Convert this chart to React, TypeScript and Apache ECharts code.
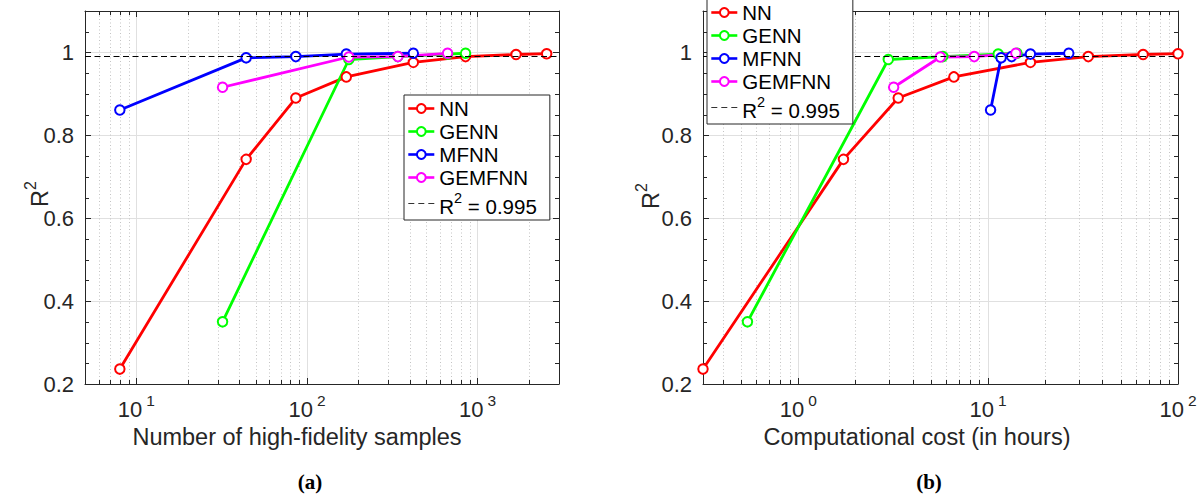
import React, { useEffect, useRef } from 'react';
import * as echarts from 'echarts';

// ---------- data ----------
const seriesNames = ['NN', 'GENN', 'MFNN', 'GEMFNN'];
const seriesColors = ['#ff0000', '#00ff00', '#0000ff', '#ff00ff'];
const REF_NAME = 'R2ref';
const R2_TARGET = 0.995;

// (a) number of high-fidelity samples
const nnSamples = [8, 44, 86, 170, 420, 850, 1680, 2540];
const genSamples = [32, 176, 341, 667, 850];
const mfSamples = [8, 44, 86, 170, 420];
const gemfSamples = [32, 176, 341, 667];

// (b) computational cost (hours)
const nnCost = [0.315, 1.73, 3.36, 6.6, 16.7, 33.7, 65.5, 100];
const genCost = [0.54, 2.98, 5.77, 11.3, 14.2];
const mfCost = [10.3, 11.7, 13.3, 16.7, 26.6];
const gemfCost = [3.18, 5.6, 8.45, 14.0];

// R^2 values (same models in both panels)
const nnR2 = [0.236, 0.742, 0.89, 0.941, 0.976, 0.99, 0.995, 0.997];
const genR2 = [0.35, 0.983, 0.99, 0.996, 0.998];
const mfR2 = [0.861, 0.987, 0.99, 0.996, 0.998];
const gemfR2 = [0.916, 0.989, 0.99, 0.998];

const xRangeA = [5, 3000];
const xRangeB = [0.315, 100];
const yRange = [0.2, 1.1];
const yMajorStep = 0.2;
const yMinorStep = 0.05;

const xTitleA = 'Number of high-fidelity samples';
const xTitleB = 'Computational cost (in hours)';
const captions = ['(a)', '(b)'];

// ---------- styling ----------
const FONT = '"Liberation Sans", Arial, Helvetica, sans-serif';
const SERIF = '"Liberation Serif", "Times New Roman", serif';
const AXIS_COLOR = '#262626';
const GRID_COLOR = '#e0e0e0';
const MINOR_GRID_COLOR = '#c4c4c4';
const TICK_FS = 22;

const grids = [
  { left: 85, top: 11, width: 474, height: 373 },
  { left: 703, top: 11, width: 475, height: 373 },
];

function logMinor(range: number[]) {
  const out: number[] = [];
  const e0 = Math.floor(Math.log10(range[0]));
  const e1 = Math.ceil(Math.log10(range[1]));
  for (let e = e0; e <= e1; e++) {
    for (let k = 2; k <= 9; k++) {
      const v = k * Math.pow(10, e);
      if (v > range[0] * 1.0001 && v < range[1] * 0.9999) out.push(v);
    }
  }
  return out;
}

function linMinor() {
  const out: number[] = [];
  const n = Math.round((yRange[1] - yRange[0]) / yMinorStep);
  for (let i = 1; i < n; i++) {
    const v = +(yRange[0] + i * yMinorStep).toFixed(4);
    const r = v / yMajorStep;
    if (Math.abs(r - Math.round(r)) > 1e-6) out.push(v);
  }
  return out;
}

const xLabelRich = {
  b: { fontSize: TICK_FS, fontFamily: FONT, color: AXIS_COLOR, lineHeight: 28, verticalAlign: 'bottom' },
  e: { fontSize: 15.5, fontFamily: FONT, color: AXIS_COLOR, lineHeight: 16, verticalAlign: 'top', padding: [0, 0, 0, 4] },
};

function xAxes(gridIndex: number, range: number[]) {
  const common: any = {
    type: 'log',
    logBase: 10,
    gridIndex,
    min: range[0],
    max: range[1],
    axisLine: { show: true, onZero: false, lineStyle: { color: AXIS_COLOR, width: 1 } },
    axisTick: { show: true, inside: true, length: 6, lineStyle: { color: AXIS_COLOR, width: 1 } },
    minorTick: { show: false },
    minorSplitLine: { show: false },
  };
  return [
    {
      ...common,
      position: 'bottom',
      axisLabel: {
        show: true,
        margin: 8,
        hideOverlap: false,
        formatter: (v: number) => {
          const l = Math.log10(v);
          const e = Math.round(l);
          if (Math.abs(l - e) > 1e-6) return '';
          return `{b|10}{e|${e}}`;
        },
        rich: xLabelRich,
      },
      splitLine: { show: true, lineStyle: { color: GRID_COLOR, width: 1 } },
    },
    { ...common, position: 'top', axisLabel: { show: false }, splitLine: { show: false } },
  ];
}

function yAxes(gridIndex: number) {
  const common: any = {
    type: 'value',
    gridIndex,
    min: yRange[0],
    max: yRange[1],
    interval: yMajorStep,
    axisLine: { show: true, onZero: false, lineStyle: { color: AXIS_COLOR, width: 1 } },
    axisTick: { show: true, inside: true, length: 6, lineStyle: { color: AXIS_COLOR, width: 1 } },
    minorTick: { show: false },
  };
  return [
    {
      ...common,
      position: 'left',
      axisLabel: {
        show: true,
        margin: 11,
        showMaxLabel: false,
        fontSize: TICK_FS,
        fontFamily: FONT,
        color: AXIS_COLOR,
        formatter: (v: number) => (v > 1.05 ? '' : String(+v.toFixed(1))),
      },
      splitLine: { show: true, lineStyle: { color: GRID_COLOR, width: 1 } },
    },
    { ...common, position: 'right', axisLabel: { show: false }, splitLine: { show: false } },
  ];
}

function minorSeries(g: number, xRange: number[]) {
  const xi = g * 2;
  const xMinor = logMinor(xRange);
  const yMinor = linMinor();
  return [
    {
      type: 'custom',
      name: 'xminor' + g,
      xAxisIndex: xi,
      yAxisIndex: xi,
      silent: true,
      z: 1,
      data: xMinor.map((v) => [v, yRange[0]]),
      renderItem: (params: any, api: any) => {
        const v = api.value(0);
        const b = api.coord([v, yRange[0]]);
        const t = api.coord([v, yRange[1]]);
        const x = Math.round(b[0]) + 0.5;
        return {
          type: 'group',
          children: [
            { type: 'line', shape: { x1: x, y1: b[1], x2: x, y2: t[1] }, style: { stroke: MINOR_GRID_COLOR, lineWidth: 1, lineDash: [1, 2.5] } },
            { type: 'line', shape: { x1: x, y1: b[1], x2: x, y2: b[1] - 4 }, style: { stroke: AXIS_COLOR, lineWidth: 1 } },
            { type: 'line', shape: { x1: x, y1: t[1], x2: x, y2: t[1] + 4 }, style: { stroke: AXIS_COLOR, lineWidth: 1 } },
          ],
        };
      },
    },
    {
      type: 'custom',
      name: 'yminor' + g,
      xAxisIndex: xi,
      yAxisIndex: xi,
      silent: true,
      z: 1,
      data: yMinor.map((v) => [xRange[0], v]),
      renderItem: (params: any, api: any) => {
        const v = api.value(1);
        const l = api.coord([xRange[0], v]);
        const r = api.coord([xRange[1], v]);
        const y = Math.round(l[1]) + 0.5;
        return {
          type: 'group',
          children: [
            { type: 'line', shape: { x1: l[0], y1: y, x2: l[0] + 4, y2: y }, style: { stroke: AXIS_COLOR, lineWidth: 1 } },
            { type: 'line', shape: { x1: r[0], y1: y, x2: r[0] - 4, y2: y }, style: { stroke: AXIS_COLOR, lineWidth: 1 } },
          ],
        };
      },
    },
  ];
}

function dataSeries(g: number, xsList: number[][], ysList: number[][]) {
  const xi = g * 2;
  const out: any[] = seriesNames.map((name, i) => ({
    type: 'line',
    name,
    xAxisIndex: xi,
    yAxisIndex: xi,
    data: xsList[i].map((x, j) => [x, ysList[i][j]]),
    symbol: 'emptyCircle',
    symbolSize: 9.5,
    showSymbol: true,
    clip: false,
    z: 3,
    color: seriesColors[i],
    lineStyle: { color: seriesColors[i], width: 2.8 },
    itemStyle: { color: seriesColors[i], borderColor: seriesColors[i], borderWidth: 2.4 },
  }));
  out.push({
    type: 'line',
    name: REF_NAME,
    xAxisIndex: xi,
    yAxisIndex: xi,
    data: [],
    symbol: 'none',
    z: 4,
    color: '#333333',
    lineStyle: { color: '#333333', width: 1, type: [5, 3.5] },
    markLine: {
      silent: true,
      symbol: ['none', 'none'],
      label: { show: false },
      lineStyle: { color: '#000000', width: 1, type: [6, 3.5] },
      data: [{ yAxis: R2_TARGET }],
      z: 4,
    },
  });
  return out;
}

const LEGEND_FS = 20.5;
const legendRich = {
  t: { fontSize: LEGEND_FS, fontFamily: FONT, color: '#000', lineHeight: 27, verticalAlign: 'bottom' },
  s: { fontSize: 14.5, fontFamily: FONT, color: '#000', lineHeight: 14, verticalAlign: 'top' },
};

function legend(left: number, top: number) {
  return {
    orient: 'vertical',
    left,
    top,
    itemWidth: 26,
    itemHeight: 11,
    itemGap: 2,
    padding: [3, 13, 3, 3],
    backgroundColor: '#ffffff',
    borderColor: AXIS_COLOR,
    borderWidth: 1,
    borderRadius: 0,
    selectedMode: false,
    z: 10,
    lineStyle: { width: 2.6 },
    data: [
      ...seriesNames,
      { name: REF_NAME, icon: 'path://M0,0h6v1h-6z M10,0h6v1h-6z M20,0h6v1h-6z' },
    ],
    formatter: (name: string) => (name === REF_NAME ? `{t|R}{s|2}{t| = ${R2_TARGET}}` : name),
    textStyle: { fontSize: LEGEND_FS, fontFamily: FONT, color: '#000', rich: legendRich },
  };
}

const r2Rich = {
  t: { fontSize: 23.5, fontFamily: FONT, fill: AXIS_COLOR, lineHeight: 30, verticalAlign: 'bottom' },
  s: { fontSize: 16, fontFamily: FONT, fill: AXIS_COLOR, lineHeight: 16, verticalAlign: 'top' },
};

function yTitle(x: number, y: number) {
  return {
    type: 'text',
    x,
    y,
    rotation: Math.PI / 2,
    style: { text: '{t|R}{s|2}', rich: r2Rich, align: 'center', verticalAlign: 'middle', fill: AXIS_COLOR },
  };
}

function textEl(text: string, x: number, y: number, fontSize: number, family: string, weight: string, color: string) {
  return {
    type: 'text',
    x,
    y,
    style: { text, fontSize, fontFamily: family, fontWeight: weight, fill: color, align: 'center', verticalAlign: 'middle' },
  };
}

export default function App() {
  const ref = useRef<HTMLDivElement>(null);
  useEffect(() => {
    if (!ref.current) return;
    const chart = echarts.init(ref.current, undefined, { renderer: 'svg' });
    const option: any = {
      animation: false,
      backgroundColor: '#ffffff',
      grid: grids,
      xAxis: [...xAxes(0, xRangeA), ...xAxes(1, xRangeB)],
      yAxis: [...yAxes(0), ...yAxes(1)],
      legend: [legend(404, 95), legend(707, -1)],
      series: [
        ...minorSeries(0, xRangeA),
        ...minorSeries(1, xRangeB),
        ...dataSeries(0, [nnSamples, genSamples, mfSamples, gemfSamples], [nnR2, genR2, mfR2, gemfR2]),
        ...dataSeries(1, [nnCost, genCost, mfCost, gemfCost], [nnR2, genR2, mfR2, gemfR2]),
      ],
      graphic: [
        yTitle(37, 194),
        yTitle(648, 196),
        textEl(xTitleA, 297, 437, 23.5, FONT, 'normal', AXIS_COLOR),
        textEl(xTitleB, 917, 437, 23.5, FONT, 'normal', AXIS_COLOR),
        textEl(captions[0], 310, 482, 21, SERIF, 'bold', '#000'),
        textEl(captions[1], 929, 482, 21, SERIF, 'bold', '#000'),
      ],
    };
    chart.setOption(option);
    return () => chart.dispose();
  }, []);
  return (
    <div
      ref={ref}
      style={{ position: 'fixed', left: 0, top: 0, width: 1201, height: 495, background: '#fff' }}
    />
  );
}
